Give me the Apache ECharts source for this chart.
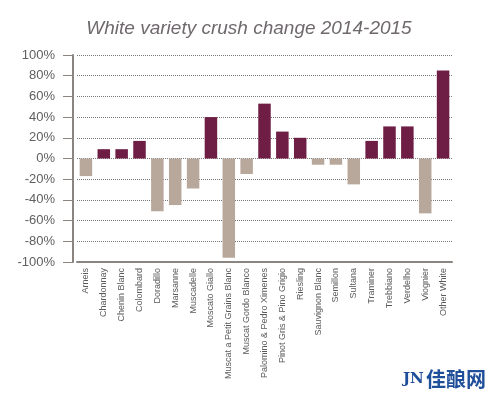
<!DOCTYPE html>
<html>
<head>
<meta charset="utf-8">
<script src="https://cdn.jsdelivr.net/npm/echarts@6/dist/echarts.min.js"></script>
<style>html,body{margin:0;padding:0;background:#fff;}#c{width:500px;height:397px;}</style>
</head>
<body>
<div id="c"></div>
<script>
const titleText = 'White variety crush change 2014-2015';
const categories = ['Arneis','Chardonnay','Chenin Blanc','Colombard','Doradillo','Marsanne','Muscadelle','Moscato Giallo','Muscat a Petit Grains Blanc','Muscat Gordo Blanco','Palomino & Pedro Ximenes','Pinot Gris & Pino Grigio','Riesling','Sauvignon Blanc','Semillon','Sultana','Traminer','Trebbiano','Verdelho','Viognier','Other White'];
const changes = [-17, 9, 9, 17, -51, -45, -29, 40, -96, -15, 53, 26, 20, -6, -6, -25, 17, 31, 31, -53, 85];
const yTicks = { min: -100, max: 100, interval: 20 };

const chart = echarts.init(document.getElementById('c'), null, { renderer: 'canvas' });
chart.setOption({
  animation: false,
  backgroundColor: '#ffffff',
  title: {
    text: titleText,
    left: 244,
    textAlign: 'center',
    top: 14,
    textStyle: { fontFamily: 'Liberation Sans', fontStyle: 'italic', fontWeight: 'normal', fontSize: 19, color: '#6f696d' }
  },
  graphic: [
    { type: 'text', left: 403, top: 372, style: { text: 'JN', font: 'bold 15px "DejaVu Serif"', fill: '#1f4f9a' } },
    { type: 'text', left: 426, top: 369, style: { text: '佳酿网', font: 'bold 20px "Noto Sans CJK SC"', fill: '#1f4f9a' } }
  ],
  grid: { left: 77, right: 48, top: 55, bottom: 135 },
  xAxis: {
    type: 'category',
    data: categories,
    position: 'bottom',
    axisLine: { onZero: false, lineStyle: { color: '#8a8580', width: 2 } },
    axisTick: { show: false },
    axisLabel: { rotate: 90, fontSize: 9, color: '#5a5a5a', margin: 6, interval: 0, fontFamily: 'Liberation Sans' }
  },
  yAxis: {
    type: 'value',
    min: yTicks.min,
    max: yTicks.max,
    interval: yTicks.interval,
    offset: 4,
    axisLine: { show: true, lineStyle: { color: '#8a8580', width: 2 } },
    axisTick: { show: true, length: 10, lineStyle: { color: '#8a8580', width: 1 } },
    axisLabel: { formatter: '{value}%', fontSize: 13, color: '#606060', margin: 18, fontFamily: 'Liberation Sans' },
    splitLine: { show: true, lineStyle: { type: 'dotted', color: '#777777', width: 1 } }
  },
  series: [{
    type: 'bar',
    data: changes,
    barWidth: '70%',
    itemStyle: { color: p => p.value >= 0 ? '#6e1d45' : '#b8a89c' }
  }]
});
</script>
</body>
</html>
